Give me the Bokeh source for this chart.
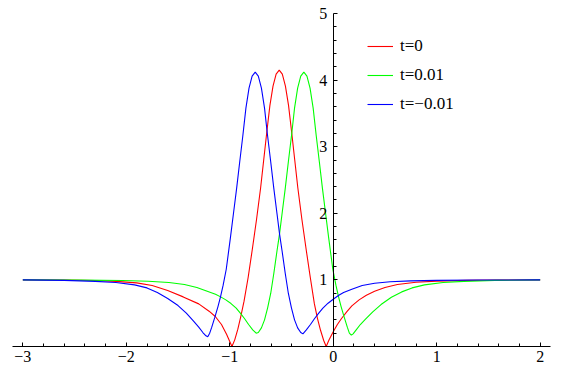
from bokeh.plotting import figure
from bokeh.models import FixedTicker, Legend, LegendItem
from bokeh.embed import file_html
from bokeh.resources import INLINE

# ---- data ----
red_x = [-3.0, -2.6, -2.3, -2.1, -1.9, -1.75, -1.6, -1.45, -1.3, -1.2, -1.14, -1.08, -1.03, -0.979,
         -0.952, -0.922, -0.892, -0.862, -0.822, -0.782, -0.742, -0.702, -0.672, -0.642, -0.612,
         -0.582, -0.552, -0.522, -0.492, -0.462, -0.432, -0.402, -0.372, -0.342, -0.302, -0.262,
         -0.222, -0.182, -0.152, -0.122, -0.092, -0.068, -0.04, 0.0, 0.04, 0.08, 0.13, 0.18, 0.25,
         0.32, 0.4, 0.5, 0.62, 0.8, 1.0, 1.3, 1.6, 2.0]
red_y = [1.0, 0.998, 0.99, 0.978, 0.955, 0.915, 0.84, 0.745, 0.64, 0.53, 0.45, 0.33, 0.18, 0.0,
         0.1, 0.26, 0.46, 0.68, 1.04, 1.46, 1.9, 2.38, 2.8, 3.22, 3.62,
         3.91, 4.09, 4.15, 4.09, 3.91, 3.62, 3.22, 2.8, 2.38, 1.9, 1.46,
         1.04, 0.64, 0.42, 0.24, 0.09, 0.0, 0.1, 0.22, 0.33, 0.42, 0.52, 0.61, 0.7,
         0.77, 0.83, 0.885, 0.93, 0.965, 0.982, 0.993, 0.997, 1.0]

green_x = [-3.0, -2.438, -2.038, -1.788, -1.588, -1.438, -1.318, -1.218, -1.138, -1.088, -1.038,
           -0.988, -0.938, -0.898, -0.858, -0.818, -0.778, -0.745, -0.724, -0.694, -0.664, -0.634,
           -0.604, -0.574, -0.544, -0.519, -0.494, -0.464, -0.434, -0.400, -0.374, -0.344, -0.314,
           -0.284, -0.254, -0.224, -0.194, -0.164, -0.134, -0.104, -0.074, -0.044, -0.004, 0.026,
           0.051, 0.076, 0.106, 0.136, 0.156, 0.175, 0.192, 0.222, 0.262, 0.312, 0.382, 0.462,
           0.562, 0.662, 0.762, 0.882, 1.062, 1.262, 1.562, 2.0]
green_y = [1.0, 0.997, 0.99, 0.98, 0.96, 0.93, 0.885, 0.83, 0.785, 0.745, 0.7,
           0.645, 0.575, 0.5, 0.42, 0.33, 0.25, 0.2, 0.21, 0.28, 0.4, 0.58,
           0.8, 1.1, 1.43, 1.69, 2.0, 2.37, 2.77, 3.21, 3.58, 3.88, 4.06,
           4.12, 4.06, 3.88, 3.58, 3.16, 2.77, 2.37, 2.0, 1.63, 1.16, 0.92,
           0.75, 0.6, 0.44, 0.29, 0.2, 0.17, 0.19, 0.25, 0.33, 0.41, 0.52, 0.63,
           0.74, 0.82, 0.88, 0.925, 0.96, 0.978, 0.993, 1.0]

blue_x = [-3.0, -2.6, -2.3, -2.1, -1.92, -1.8, -1.7, -1.6, -1.5, -1.42, -1.35, -1.3, -1.26, -1.23,
          -1.213, -1.194, -1.174, -1.144, -1.114, -1.089, -1.064, -1.034, -0.994, -0.964, -0.934,
          -0.904, -0.874, -0.844, -0.814, -0.784, -0.754, -0.724, -0.694, -0.664, -0.638, -0.604,
          -0.574, -0.544, -0.519, -0.494, -0.464, -0.434, -0.404, -0.374, -0.344, -0.314, -0.293,
          -0.26, -0.22, -0.18, -0.14, -0.1, -0.05, 0.0, 0.05, 0.1, 0.18, 0.28, 0.4, 0.55, 0.75,
          1.0, 1.4, 2.0]
blue_y = [1.0, 0.993, 0.978, 0.96, 0.925, 0.88, 0.81, 0.72, 0.615, 0.5, 0.38, 0.29, 0.21, 0.16,
          0.145, 0.2, 0.29, 0.44, 0.6, 0.75, 0.92, 1.16, 1.63, 2.0, 2.37,
          2.77, 3.16, 3.58, 3.88, 4.06, 4.12, 4.06, 3.88, 3.58, 3.21, 2.77,
          2.37, 2.0, 1.69, 1.43, 1.1, 0.8, 0.58, 0.4, 0.28, 0.21, 0.19,
          0.25, 0.33, 0.42, 0.5, 0.575, 0.65, 0.71, 0.765, 0.81, 0.86, 0.915, 0.95, 0.972, 0.986,
          0.993, 0.998, 1.0]

x_ticks = [-3, -2, -1, 0, 1, 2]
x_tick_labels = ["\u22123", "\u22122", "\u22121", "0", "1", "2"]
y_ticks = [1, 2, 3, 4, 5]
y_tick_labels = ["1", "2", "3", "4", "5"]
legend_labels = ["t=0", "t=0.01", "t=\u22120.01"]
series_colors = ["#ff0000", "#00ff00", "#0000ff"]

# ---- figure ----
p = figure(width=566, height=376, x_range=(-3.1, 2.1), y_range=(0, 5.12),
           output_backend="svg", toolbar_location=None,
           min_border_left=12, min_border_right=16, min_border_top=5, min_border_bottom=30)
p.title.visible = False
p.outline_line_color = None
p.xgrid.visible = False
p.ygrid.visible = False
p.background_fill_color = "white"
p.border_fill_color = "white"

x_minor = [round(-3 + 0.2 * i, 1) for i in range(26) if i % 5 != 0]
y_minor = [round(0.2 * i, 1) for i in range(1, 26) if i % 5 != 0]

for ax, ticks, minor, labels in ((p.xaxis[0], x_ticks, x_minor, x_tick_labels),
                                 (p.yaxis[0], y_ticks, y_minor, y_tick_labels)):
    ax.ticker = FixedTicker(ticks=ticks, minor_ticks=minor)
    ax.major_label_overrides = {t: l for t, l in zip(ticks, labels)}
    ax.axis_line_color = "black"
    ax.axis_line_width = 1
    ax.major_tick_line_color = "black"
    ax.minor_tick_line_color = "black"
    ax.major_tick_in = 4
    ax.major_tick_out = 0
    ax.minor_tick_in = 3
    ax.minor_tick_out = 0
    ax.major_label_text_font = "Liberation Serif"
    ax.major_label_text_font_size = "16px"
    ax.major_label_text_color = "black"

p.yaxis[0].fixed_location = 0
p.yaxis[0].bounds = (0, 5)
p.yaxis[0].major_label_standoff = 6
p.xaxis[0].major_label_standoff = 4

renderers = []
for xs, ys, c in ((red_x, red_y, series_colors[0]),
                  (green_x, green_y, series_colors[1]),
                  (blue_x, blue_y, series_colors[2])):
    renderers.append(p.line(xs, ys, line_color=c, line_width=1.1))

legend = Legend(items=[LegendItem(label=lab, renderers=[r]) for lab, r in zip(legend_labels, renderers)],
                location=(355, 232))
legend.glyph_width = 26
legend.glyph_height = 20
legend.label_height = 20
legend.label_standoff = 7
legend.spacing = 9
legend.padding = 0
legend.margin = 0
legend.border_line_color = None
legend.background_fill_alpha = 0
legend.label_text_font = "Liberation Serif"
legend.label_text_font_size = "17px"
legend.label_text_color = "black"
p.add_layout(legend)

open("out.html", "w").write(file_html(p, INLINE))
